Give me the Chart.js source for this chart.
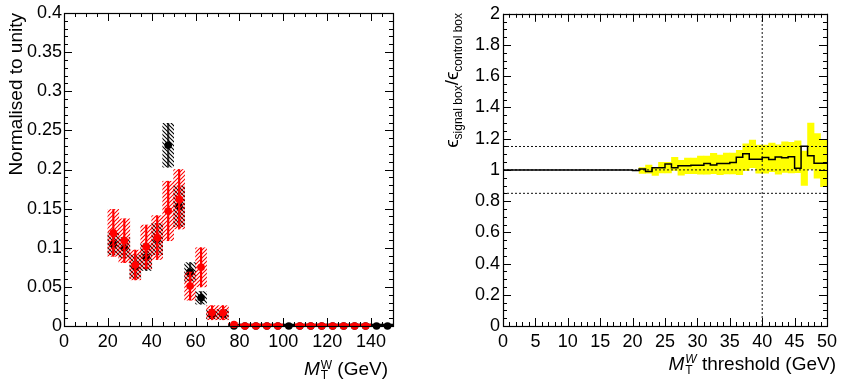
<!DOCTYPE html>
<html>
<head>
<meta charset="utf-8">
<title>QCD simulation: signal box vs control box</title>
<script src="https://cdn.jsdelivr.net/npm/chart.js@4.4.1/dist/chart.umd.min.js"></script>
<style>
  html, body { margin: 0; padding: 0; background: #fff; }
  #page { position: relative; width: 842px; height: 382px; overflow: hidden; background: #fff; }
  #page canvas { position: absolute; top: 0; }
</style>
</head>
<body>
<div id="page">
  <canvas id="mtPlot" width="421" height="382" style="left:0"></canvas>
  <canvas id="ratioPlot" width="421" height="382" style="left:421px"></canvas>
</div>
<script>
// ---------- Left panel: normalised M_T^W shapes (5 GeV bins) ----------
const mtBinCentres = [22.5, 27.5, 32.5, 37.5, 42.5, 47.5, 52.5, 57.5, 62.5, 67.5, 72.5, 77.5, 82.5,
                      87.5, 92.5, 97.5, 102.5, 107.5, 112.5, 117.5, 122.5, 127.5, 132.5, 137.5, 142.5, 147.5];
const signalBox     = [0.105, 0.100, 0.076, 0.088, 0.111, 0.231, 0.153, 0.069, 0.036, 0.015, 0.015, 0, 0,
                       0, 0, 0, 0, 0, 0, 0, 0, 0, 0, 0, 0, 0];
const signalBoxErr  = [0.014, 0.013, 0.015, 0.017, 0.020, 0.028, 0.026, 0.012, 0.008, 0.006, 0.006, 0, 0,
                       0, 0, 0, 0, 0, 0, 0, 0, 0, 0, 0, 0, 0];
const controlBox    = [0.119, 0.109, 0.078, 0.101, 0.113, 0.147, 0.162, 0.051, 0.075, 0.017, 0.017, 0.002, 0,
                       0, 0, 0, null, 0, 0, 0, 0, 0, 0, 0, null, null];
const controlBoxErr = [0.030, 0.028, 0.019, 0.028, 0.028, 0.038, 0.038, 0.018, 0.025, 0.009, 0.009, 0.002, 0,
                       0, 0, 0, null, 0, 0, 0, 0, 0, 0, 0, null, null];
const mtTicks   = [0, 20, 40, 60, 80, 100, 120, 140];
const normTicks = [0, 0.05, 0.1, 0.15, 0.2, 0.25, 0.3, 0.35, 0.4];
const legendLabels = ['QCD simulation, signal box', 'QCD simulation, control box'];

// ---------- Right panel: efficiency ratio vs M_T^W threshold (1 GeV bins) ----------
const thresholdBinLow = [0, 1, 2, 3, 4, 5, 6, 7, 8, 9, 10, 11, 12, 13, 14, 15, 16, 17, 18, 19, 20,
                         21, 22, 23, 24, 25, 26, 27, 28, 29, 30, 31, 32, 33, 34, 35, 36, 37, 38, 39,
                         40, 41, 42, 43, 44, 45, 46, 47, 48, 49];
const effRatio = [1, 1, 1, 1, 1, 1, 1, 1, 1, 1, 1, 1, 1, 1, 1, 1, 1, 1, 1, 1, 1,
                  0.996, 1.005, 0.989, 1.014, 1.014, 1.038, 1.014, 1.026, 1.026, 1.030, 1.030, 1.041, 1.032, 1.041, 1.041, 1.048, 1.081, 1.103, 1.069,
                  1.069, 1.080, 1.067, 1.082, 1.078, 1.084, 1.010, 1.152, 1.090, 1.042];
const effRatioErr = [0, 0, 0, 0, 0, 0, 0, 0, 0, 0, 0, 0, 0, 0, 0, 0, 0, 0, 0, 0, 0,
                     0.019, 0.026, 0.025, 0.034, 0.034, 0.042, 0.048, 0.050, 0.050, 0.058, 0.058, 0.065, 0.063, 0.067, 0.067, 0.078, 0.086, 0.088, 0.090,
                     0.090, 0.092, 0.094, 0.098, 0.098, 0.102, 0.110, 0.148, 0.143, 0.150];
const referenceLevels = [0.85, 1.0, 1.15];
const chosenThreshold = 40;
const thresholdTicks = [0, 5, 10, 15, 20, 25, 30, 35, 40, 45, 50];
const ratioTicks = [0, 0.2, 0.4, 0.6, 0.8, 1, 1.2, 1.4, 1.6, 1.8, 2];

// ---------- shared styling ----------
const FONT = "'Liberation Sans', Arial, Helvetica, sans-serif";
Chart.defaults.font.family = FONT;
Chart.defaults.color = '#000';
const RED = '#ff0000';
const fmt = v => String(parseFloat(Number(v).toFixed(3)));

function hatchPattern(ctx, color, dir) {
  const s = 4;
  const c = document.createElement('canvas');
  c.width = s; c.height = s;
  const g = c.getContext('2d');
  g.strokeStyle = color;
  g.lineWidth = 1.1;
  g.beginPath();
  if (dir === '/') {
    g.moveTo(-1, s + 1); g.lineTo(s + 1, -1);
    g.moveTo(-1, 1); g.lineTo(1, -1);
    g.moveTo(s - 1, s + 1); g.lineTo(s + 1, s - 1);
  } else {
    g.moveTo(-1, -1); g.lineTo(s + 1, s + 1);
    g.moveTo(-1, s - 1); g.lineTo(1, s + 1);
    g.moveTo(s - 1, -1); g.lineTo(s + 1, 1);
  }
  g.stroke();
  return ctx.createPattern(c, 'repeat');
}

// rich text: parts are {t, size, it} or {sub, sup, size, supIt, subDy, supDy}
function partWidth(ctx, p) {
  if (p.t !== undefined) {
    ctx.font = (p.it ? 'italic ' : '') + p.size + 'px ' + FONT;
    return ctx.measureText(p.t).width;
  }
  ctx.font = p.size + 'px ' + FONT;
  const wSub = p.sub ? ctx.measureText(p.sub).width : 0;
  ctx.font = (p.supIt ? 'italic ' : '') + p.size + 'px ' + FONT;
  const wSup = p.sup ? ctx.measureText(p.sup).width : 0;
  return Math.max(wSub, wSup) + 1;
}
function drawRich(ctx, parts, xEnd, yBase) {
  let total = 0;
  for (const p of parts) total += partWidth(ctx, p);
  let x = xEnd - total;
  ctx.textAlign = 'left';
  ctx.textBaseline = 'alphabetic';
  ctx.fillStyle = '#000';
  for (const p of parts) {
    const w = partWidth(ctx, p);
    if (p.t !== undefined) {
      ctx.font = (p.it ? 'italic ' : '') + p.size + 'px ' + FONT;
      ctx.fillText(p.t, x, yBase + (p.dy || 0));
    } else {
      if (p.sub) {
        ctx.font = p.size + 'px ' + FONT;
        ctx.fillText(p.sub, x + 1, yBase + p.subDy);
      }
      if (p.sup) {
        ctx.font = (p.supIt ? 'italic ' : '') + p.size + 'px ' + FONT;
        ctx.fillText(p.sup, x + 1, yBase + p.supDy);
      }
    }
    x += w;
  }
}

// ROOT-like frame with inward ticks on all four sides
const rootFrame = {
  id: 'rootFrame',
  afterDatasetsDraw(chart, args, o) {
    const { ctx, chartArea: a, scales: { x, y } } = chart;
    ctx.save();
    ctx.strokeStyle = '#000';
    ctx.lineWidth = 1;
    ctx.beginPath();
    const isMajor = (v, m) => Math.abs(v / m - Math.round(v / m)) < 1e-6;
    for (let i = 0; ; i++) {
      const v = x.min + i * o.xMinor;
      if (v > x.max + 1e-9) break;
      const px = Math.round(x.getPixelForValue(v)) + 0.5;
      const len = isMajor(v, o.xMajor) ? o.majorLen : o.minorLen;
      ctx.moveTo(px, a.bottom); ctx.lineTo(px, a.bottom - len);
      ctx.moveTo(px, a.top); ctx.lineTo(px, a.top + len);
    }
    for (let i = 0; ; i++) {
      const v = y.min + i * o.yMinor;
      if (v > y.max + 1e-9) break;
      const py = Math.round(y.getPixelForValue(v)) + 0.5;
      const len = isMajor(v, o.yMajor) ? o.majorLen : o.minorLen;
      ctx.moveTo(a.left, py); ctx.lineTo(a.left + len, py);
      ctx.moveTo(a.right, py); ctx.lineTo(a.right - len, py);
    }
    ctx.stroke();
    ctx.lineWidth = 1.2;
    ctx.strokeRect(Math.round(a.left) + 0.5, Math.round(a.top) + 0.5,
                   Math.round(a.right) - Math.round(a.left), Math.round(a.bottom) - Math.round(a.top));
    ctx.restore();
  }
};

// axis titles (and, for the left panel, the legend)
const rootText = {
  id: 'rootText',
  afterDraw(chart, args, o) {
    const ctx = chart.ctx;
    ctx.save();
    drawRich(ctx, o.xTitle, o.xTitleEnd, o.xTitleBase);
    ctx.save();
    ctx.translate(o.yTitleBase, o.yTitleEnd);
    ctx.rotate(-Math.PI / 2);
    drawRich(ctx, o.yTitle, 0, 0);
    ctx.restore();
    if (o.legend) {
      o.legend.forEach((item, i) => {
        const cy = o.legend.y0 + i * o.legend.dy;
        const x0 = o.legend.x0;
        ctx.fillStyle = item.pattern;
        ctx.fillRect(x0, cy - 6, 16, 12);
        ctx.beginPath();
        ctx.fillStyle = item.color;
        ctx.arc(x0 + 8, cy, 3.8, 0, Math.PI * 2);
        ctx.fill();
        ctx.font = '14px ' + FONT;
        ctx.fillStyle = '#000';
        ctx.textAlign = 'left';
        ctx.textBaseline = 'middle';
        ctx.fillText(item.label, x0 + 18, cy + 0.5);
      });
    }
    ctx.restore();
  }
};

function axisOpts(min, max, ticks, fitProp, fitVal, pad) {
  return {
    type: 'linear', min, max, offset: false,
    grid: { display: false, drawTicks: false, offset: false },
    border: { display: false },
    ticks: { padding: pad, autoSkip: false, maxRotation: 0, font: { size: 18 }, color: '#000',
             callback: v => fmt(v) },
    afterBuildTicks: s => { s.ticks = ticks.map(v => ({ value: v })); },
    afterFit: s => { s[fitProp] = fitVal; }
  };
}

// ---------- left chart ----------
const mtCtx = document.getElementById('mtPlot').getContext('2d');
const blackHatch = hatchPattern(mtCtx, '#000', '\\');
const redHatch = hatchPattern(mtCtx, RED, '/');

function boxData(vals, errs) {
  const out = [];
  mtBinCentres.forEach((c, i) => { if (vals[i] !== null && errs[i] > 0) out.push({ x: c, y: [vals[i] - errs[i], vals[i] + errs[i]] }); });
  return out;
}
function zeroBinData(vals) {
  const out = [];
  mtBinCentres.forEach((c, i) => { if (vals[i] === 0) out.push({ x: c, y: [0, 0.0025] }); });
  return out;
}
function pointData(vals) {
  const out = [];
  mtBinCentres.forEach((c, i) => { if (vals[i] !== null) out.push({ x: c, y: vals[i] }); });
  return out;
}
const barBase = { type: 'bar', grouped: false, barPercentage: 1, categoryPercentage: 1, borderWidth: 0, clip: false };
const ptBase = { type: 'scatter', pointRadius: 3.8, pointBorderWidth: 0, showLine: false, clip: false };

new Chart(mtCtx, {
  type: 'scatter',
  data: {
    datasets: [
      { ...barBase, label: 'signal box band', data: boxData(signalBox, signalBoxErr), backgroundColor: blackHatch, order: 80 },
      { ...barBase, label: 'signal box empty', data: zeroBinData(signalBox), backgroundColor: '#000', order: 79 },
      { ...barBase, label: 'signal box err', data: boxData(signalBox, signalBoxErr), barThickness: 1.5, backgroundColor: 'rgba(0,0,0,0.75)', order: 78 },
      { ...ptBase, label: legendLabels[0], data: pointData(signalBox), pointBackgroundColor: '#000', backgroundColor: '#000', order: 77 },
      { ...barBase, label: 'control box band', data: boxData(controlBox, controlBoxErr), backgroundColor: redHatch, order: 60 },
      { ...barBase, label: 'control box empty', data: zeroBinData(controlBox), backgroundColor: RED, order: 59 },
      { ...barBase, label: 'control box err', data: boxData(controlBox, controlBoxErr), barThickness: 1.5, backgroundColor: RED, order: 58 },
      { ...ptBase, label: legendLabels[1], data: pointData(controlBox), pointBackgroundColor: RED, backgroundColor: RED, order: 57 }
    ]
  },
  options: {
    responsive: false, animation: false, devicePixelRatio: 1, events: [],
    layout: { padding: { left: 0, top: 13, right: 28, bottom: 0 } },
    scales: {
      x: axisOpts(0, 150, mtTicks, 'height', 56, 5),
      y: axisOpts(0, 0.4, normTicks, 'width', 64, 2)
    },
    plugins: {
      legend: { display: false }, tooltip: { enabled: false },
      rootFrame: { xMinor: 5, xMajor: 20, yMinor: 0.01, yMajor: 0.05, majorLen: 8, minorLen: 4 },
      rootText: {
        xTitle: [{ t: 'M', size: 19, it: true }, { sub: 'T', sup: 'W', size: 12, subDy: 4, supDy: -6 }, { t: ' (GeV)', size: 19 }],
        xTitleEnd: 388, xTitleBase: 375,
        yTitle: [{ t: 'Normalised to unity', size: 19 }],
        yTitleBase: 22, yTitleEnd: 13,
        legend: Object.assign([
          { label: legendLabels[0], pattern: blackHatch, color: '#000' },
          { label: legendLabels[1], pattern: redHatch, color: RED }
        ], { x0: 165, y0: 43, dy: 20 })
      }
    }
  },
  plugins: [rootFrame, rootText]
});

// ---------- right chart ----------
const ratioCtx = document.getElementById('ratioPlot').getContext('2d');
const bandData = [];
thresholdBinLow.forEach((t, i) => { if (effRatioErr[i] > 0) bandData.push({ x: t + 0.5, y: [effRatio[i] - effRatioErr[i], effRatio[i] + effRatioErr[i]] }); });
const stepData = thresholdBinLow.map((t, i) => ({ x: t, y: effRatio[i] }));
stepData.push({ x: thresholdBinLow[thresholdBinLow.length - 1] + 1, y: effRatio[effRatio.length - 1] });
const dotted = { type: 'line', borderColor: '#111', borderWidth: 1, borderDash: [2, 2], pointRadius: 0, fill: false, order: 20 };
const refSets = referenceLevels.map(l => ({ ...dotted, label: 'ref ' + l, data: [{ x: 0, y: l }, { x: 50, y: l }] }));
refSets.push({ ...dotted, label: 'threshold', data: [{ x: chosenThreshold, y: 0 }, { x: chosenThreshold, y: 2 }] });

new Chart(ratioCtx, {
  type: 'scatter',
  data: {
    datasets: [
      { type: 'bar', label: 'ratio uncertainty', data: bandData, grouped: false, barPercentage: 1, categoryPercentage: 1,
        borderWidth: 0, backgroundColor: '#ffff00', order: 40 },
      ...refSets,
      { type: 'line', label: 'ratio', data: stepData, stepped: 'after', borderColor: '#000', borderWidth: 1.5,
        pointRadius: 0, fill: false, order: 1 }
    ]
  },
  options: {
    responsive: false, animation: false, devicePixelRatio: 1, events: [],
    layout: { padding: { left: 0, top: 13, right: 14, bottom: 0 } },
    scales: {
      x: axisOpts(0, 50, thresholdTicks, 'height', 56, 5),
      y: axisOpts(0, 2, ratioTicks, 'width', 82, 3)
    },
    plugins: {
      legend: { display: false }, tooltip: { enabled: false },
      rootFrame: { xMinor: 1, xMajor: 5, yMinor: 0.05, yMajor: 0.2, majorLen: 8, minorLen: 4 },
      rootText: {
        xTitle: [{ t: 'M', size: 19, it: true }, { sub: 'T', sup: 'W', size: 12, supIt: true, subDy: 4, supDy: -7 }, { t: ' threshold (GeV)', size: 19 }],
        xTitleEnd: 415, xTitleBase: 370,
        yTitle: [{ t: '\u03F5', size: 19 }, { t: 'signal box', size: 12, dy: 4 }, { t: '/\u03F5', size: 19 }, { t: 'control box', size: 12, dy: 4 }],
        yTitleBase: 37, yTitleEnd: 13
      }
    }
  },
  plugins: [rootFrame, rootText]
});
</script>
</body>
</html>
